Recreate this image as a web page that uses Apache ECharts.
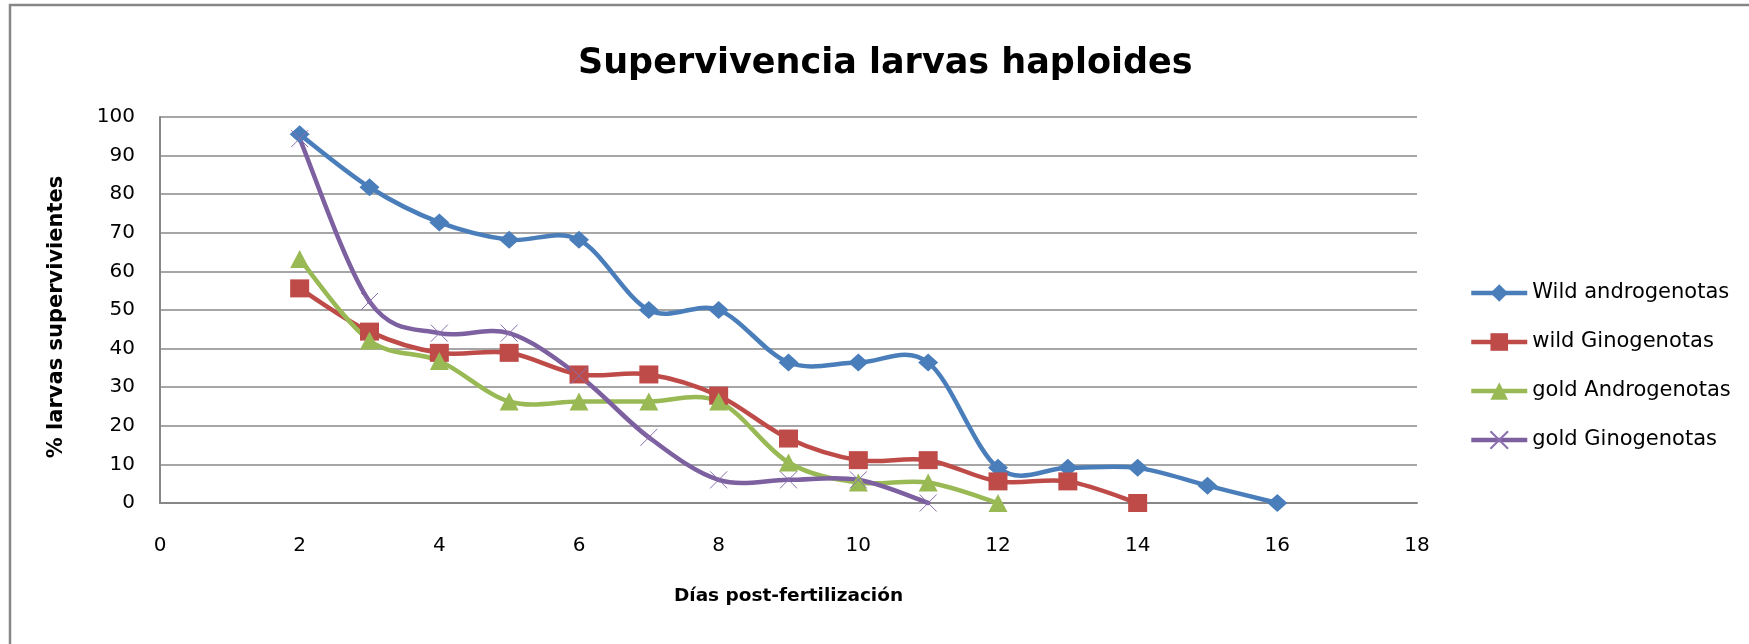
<!DOCTYPE html>
<html>
<head>
<meta charset="utf-8">
<script src="https://cdn.jsdelivr.net/npm/echarts@6/dist/echarts.min.js"></script>
<style>
  html, body { margin: 0; padding: 0; background: #fff; }
  #chart { width: 1749px; height: 644px; }
</style>
</head>
<body>
<div id="chart"></div>
<script>
// datos (dias post-fertilizacion / % supervivencia)
var xTicks = [0, 2, 4, 6, 8, 10, 12, 14, 16, 18];
var yTicks = [0, 10, 20, 30, 40, 50, 60, 70, 80, 90, 100];

var wildAndroDays = [2, 3, 4, 5, 6, 7, 8, 9, 10, 11, 12, 13, 14, 15, 16];
var wildAndroVals = [95.5, 81.8, 72.7, 68.2, 68.2, 50, 50, 36.4, 36.4, 36.4, 9.1, 9.1, 9.1, 4.5, 0];

var wildGinoDays = [2, 3, 4, 5, 6, 7, 8, 9, 10, 11, 12, 13, 14];
var wildGinoVals = [55.6, 44.4, 38.9, 38.9, 33.3, 33.3, 27.8, 16.7, 11.1, 11.1, 5.6, 5.6, 0];

var goldAndroDays = [2, 3, 4, 5, 6, 7, 8, 9, 10, 11, 12];
var goldAndroVals = [63.2, 42.1, 36.8, 26.3, 26.3, 26.3, 26.3, 10.5, 5.3, 5.3, 0];

var goldGinoDays = [2, 3, 4, 5, 6, 7, 8, 9, 10, 11];
var goldGinoVals = [94.4, 52.2, 44, 44, 33, 17, 6, 6, 6, 0];

var seriesNames = ["Wild androgenotas", "wild Ginogenotas", "gold Androgenotas", "gold Ginogenotas"];
var colors = ["#4A7EBB", "#BE4B48", "#98B954", "#7D60A0"];

function pairs(xs, ys) {
  return xs.map(function (x, i) { return [x, ys[i]]; });
}

var FONT = "DejaVu Sans";
var LW = 4.5;
var myChart = echarts.init(document.getElementById("chart"));

// curva suavizada tipo Excel (Catmull-Rom -> Bezier), puntos via api.coord
function curveSeries(name, xs, ys, color) {
  return {
    name: name + " (curva)",
    type: "custom",
    coordinateSystem: "cartesian2d",
    data: pairs(xs, ys),
    encode: { x: 0, y: 1 },
    z: 2,
    silent: true,
    renderItem: function (params, api) {
      var i = params.dataIndex;
      var n = xs.length;
      if (i >= n - 1) return null;
      var pt = function (j) {
        j = Math.max(0, Math.min(n - 1, j));
        return api.coord([xs[j], ys[j]]);
      };
      var p0 = pt(i - 1), p1 = pt(i), p2 = pt(i + 1), p3 = pt(i + 2);
      return {
        type: "bezierCurve",
        shape: {
          x1: p1[0], y1: p1[1], x2: p2[0], y2: p2[1],
          cpx1: p1[0] + (p2[0] - p0[0]) / 6, cpy1: p1[1] + (p2[1] - p0[1]) / 6,
          cpx2: p2[0] - (p3[0] - p1[0]) / 6, cpy2: p2[1] - (p3[1] - p1[1]) / 6
        },
        style: { stroke: color, lineWidth: LW, fill: null, lineCap: "round" }
      };
    }
  };
}

function markerSeries(name, xs, ys, color, symbol, size, itemStyle) {
  return {
    name: name,
    type: "line",
    data: pairs(xs, ys),
    z: 3,
    symbol: symbol,
    symbolSize: size,
    symbolKeepAspect: false,
    showAllSymbol: true,
    lineStyle: { color: color, width: LW, opacity: 0 },
    itemStyle: itemStyle || { color: color, borderWidth: 0 },
    emphasis: { disabled: true }
  };
}

myChart.setOption({
  animation: false,
  backgroundColor: "#fff",
  title: {
    text: "Supervivencia larvas haploides",
    left: 573,
    top: 41,
    textStyle: { fontFamily: FONT, fontSize: 35, fontWeight: "bold", color: "#000" }
  },
  graphic: [{
    type: "rect",
    shape: { x: 10, y: 5, width: 2000, height: 2000 },
    style: { fill: "none", stroke: "#868686", lineWidth: 2.5 },
    silent: true
  }],
  legend: {
    orient: "vertical",
    left: 1469,
    top: 282,
    padding: 0,
    itemWidth: 56,
    itemHeight: 22,
    itemGap: 27,
    itemTextGap: 4,
    textStyle: { fontFamily: FONT, fontSize: 21, color: "#000", lineHeight: 22 },
    data: seriesNames.map(function (n, i) {
      return { name: n, lineStyle: { color: colors[i], width: LW, opacity: 1 } };
    })
  },
  grid: { left: 160, right: 332, top: 117, bottom: 141, containLabel: false },
  xAxis: {
    type: "value",
    min: xTicks[0],
    max: xTicks[xTicks.length - 1],
    interval: 2,
    name: "Días post-fertilización",
    nameLocation: "middle",
    nameGap: 84,
    nameTextStyle: { fontFamily: FONT, fontSize: 18.5, fontWeight: "bold", color: "#000" },
    axisLine: { onZero: false, lineStyle: { color: "#878787", width: 2 } },
    axisTick: { show: false },
    splitLine: { show: false },
    axisLabel: { margin: 33, fontFamily: FONT, fontSize: 20, color: "#000" }
  },
  yAxis: {
    type: "value",
    min: yTicks[0],
    max: yTicks[yTicks.length - 1],
    interval: 10,
    name: "% larvas supervivientes",
    nameLocation: "middle",
    nameGap: 93,
    nameTextStyle: { fontFamily: FONT, fontSize: 21, fontWeight: "bold", color: "#000", padding: [0, 14, 0, 0] },
    axisLine: { show: true, lineStyle: { color: "#878787", width: 2 } },
    axisTick: { show: false },
    splitLine: { lineStyle: { color: "#888888", width: 1.5 } },
    axisLabel: { margin: 25, fontFamily: FONT, fontSize: 20, color: "#000" }
  },
  series: [
    curveSeries(seriesNames[0], wildAndroDays, wildAndroVals, colors[0]),
    curveSeries(seriesNames[1], wildGinoDays, wildGinoVals, colors[1]),
    curveSeries(seriesNames[2], goldAndroDays, goldAndroVals, colors[2]),
    curveSeries(seriesNames[3], goldGinoDays, goldGinoVals, colors[3]),
    markerSeries(seriesNames[0], wildAndroDays, wildAndroVals, colors[0], "diamond", [20, 18]),
    markerSeries(seriesNames[1], wildGinoDays, wildGinoVals, colors[1], "rect", [19, 18]),
    markerSeries(seriesNames[2], goldAndroDays, goldAndroVals, colors[2], "triangle", [19, 18]),
    markerSeries(seriesNames[3], goldGinoDays, goldGinoVals, colors[3],
      "path://M0,0L10,10M10,0L0,10", [17, 17],
      { color: colors[3], borderColor: "#8B6FB0", borderWidth: 1 })
  ]
});
</script>
</body>
</html>
